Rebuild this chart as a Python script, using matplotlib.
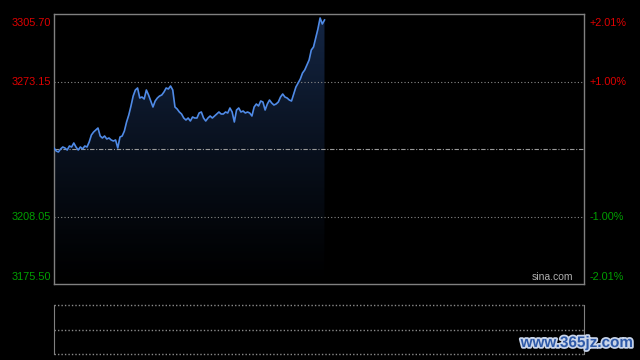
import numpy as np
import matplotlib
matplotlib.use("Agg")
import matplotlib.pyplot as plt
import matplotlib.patheffects as pe

plt.rcParams['font.family'] = ['Liberation Sans', 'DejaVu Sans']

# intraday index, minute by minute from 9:30
minutes = list(range(124))
prices = [3241.23, 3239.78, 3239.30, 3240.75, 3241.71, 3241.23, 3240.26, 3242.19, 3241.71, 3243.64,
          3241.71, 3240.26, 3241.71, 3240.75, 3242.19, 3241.71, 3244.12, 3247.50, 3248.94, 3249.91,
          3250.87, 3247.01, 3246.05, 3247.01, 3245.57, 3246.05, 3245.09, 3244.60, 3245.09, 3241.23,
          3246.53, 3247.01, 3249.43, 3253.77, 3257.14, 3261.48, 3266.30, 3269.20, 3270.16, 3265.34,
          3265.82, 3264.86, 3269.20, 3266.79, 3263.89, 3261.00, 3263.89, 3265.34, 3266.30, 3266.79,
          3268.23, 3270.16, 3269.68, 3271.13, 3269.20, 3261.00, 3260.03, 3258.59, 3257.62, 3255.69,
          3254.73, 3255.69, 3254.25, 3256.18, 3255.69, 3255.69, 3258.11, 3258.59, 3255.69, 3254.25,
          3255.69, 3256.66, 3255.69, 3256.66, 3257.62, 3258.59, 3257.62, 3257.62, 3258.59, 3258.11,
          3260.52, 3258.59, 3253.77, 3259.55, 3260.52, 3258.59, 3259.07, 3258.11, 3258.59, 3258.11,
          3256.66, 3261.00, 3262.45, 3261.48, 3263.89, 3263.41, 3259.55, 3262.45, 3264.37, 3262.93,
          3261.96, 3262.45, 3263.41, 3265.82, 3267.27, 3265.82, 3265.34, 3264.37, 3263.89, 3267.27,
          3270.64, 3272.57, 3274.50, 3277.39, 3278.84, 3281.25, 3283.66, 3288.49, 3289.93, 3294.27,
          3298.61, 3303.92, 3301.02, 3302.95]

pre_close = 3240.60
y_top = 3305.70
y_bot = 3175.50
left_ticks = [3305.70, 3273.15, 3208.05, 3175.50]
n_minutes = 241

RED = "#e00000"
GREEN = "#00a000"
FRAME = "#808080"

fig = plt.figure(figsize=(6.4, 3.6), dpi=100, facecolor="black")
ax = fig.add_axes([54/640, 1-284.3/360, 530/640, 270/360])
ax.set_facecolor("black")
ax.set_xlim(0, n_minutes)
ax.set_ylim(y_bot, y_top)
ax.set_xticks([])
ax.set_yticks([])
for s in ax.spines.values():
    s.set_color(FRAME)
    s.set_linewidth(1)

# gradient fill under the line
poly = ax.fill_between(minutes, prices, y_bot, facecolor="none", edgecolor="none")
grad = np.linspace(0, 1, 256).reshape(-1, 1)
top_c = np.array([0.08, 0.15, 0.27])
img = (grad ** 1.2)[..., None] * top_c[None, None, :]
im = ax.imshow(img, extent=[0, n_minutes, y_bot, y_top], origin="lower",
               aspect="auto", zorder=1)
im.set_clip_path(poly.get_paths()[0], transform=ax.transData)

# grid
for v in [3273.15, 3208.05]:
    ax.axhline(v, color="#8a8a8a", lw=0.8, ls=(0, (1, 2)), zorder=2)
ax.axhline(pre_close, color="#9a9a9a", lw=0.8, ls=(0, (4, 1.5, 1, 1.5)), zorder=2)

ax.plot(minutes, prices, color="#4f8ae6", lw=1.2, zorder=3)

# axis labels
ytr = ax.get_yaxis_transform()
vas = ["top", "center", "center", "bottom"]
offs = [-2.5, 0, 0, 1.5]
for v, va, dy in zip(left_ticks, vas, offs):
    c = RED if v > pre_close else GREEN
    ax.annotate(f"{v:.2f}", (-0.006, v), xycoords=ytr, xytext=(0, dy),
                textcoords="offset points", color=c, fontsize=7.8,
                ha="right", va=va)
    pct = (v / pre_close - 1) * 100
    ax.annotate(f"{pct:+.2f}%", (1.011, v), xycoords=ytr, xytext=(0, dy),
                textcoords="offset points", color=c, fontsize=7.8,
                ha="left", va=va)

ax.text(0.979, 0.008, "sina.com", color="#b0b0b0", fontsize=7.5, ha="right",
        va="bottom", transform=ax.transAxes)

# volume panel (empty)
ax2 = fig.add_axes([54/640, 1-354.3/360, 530/640, 49.3/360])
ax2.set_facecolor("black")
ax2.set_xlim(0, n_minutes)
ax2.set_ylim(0, 1)
ax2.set_xticks([])
ax2.set_yticks([])
for k in ["top", "bottom"]:
    ax2.spines[k].set_visible(False)
for k in ["left", "right"]:
    ax2.spines[k].set_color(FRAME)
for v in [0, 0.5, 1]:
    ax2.axhline(v, color="#8a8a8a", lw=1.0, ls=(0, (1, 1.5)), clip_on=False)

fig.text(633/640, 1-343/360, "www.365jz.com", color="#2f5aa8", fontsize=11,
         fontweight="bold", ha="right", va="center",
         path_effects=[pe.withStroke(linewidth=2.5, foreground="#c9d5ea")])

fig.savefig("out.png", dpi=100, facecolor="black")
